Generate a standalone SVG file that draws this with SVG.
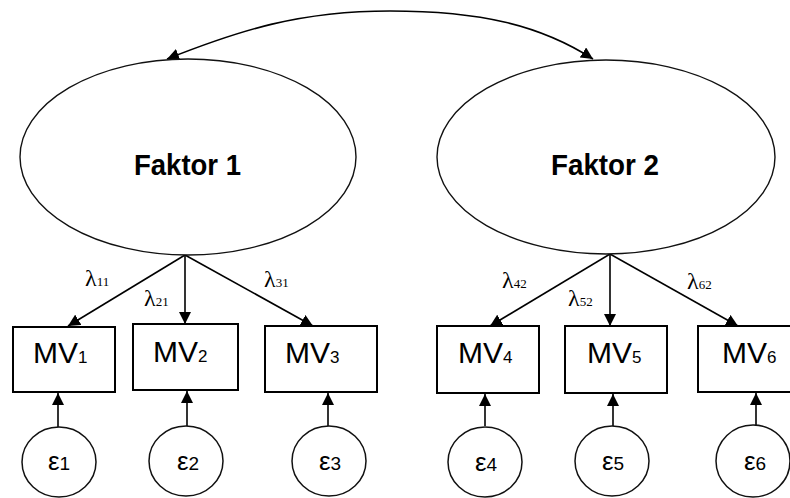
<svg xmlns="http://www.w3.org/2000/svg" width="790" height="498" viewBox="0 0 790 498">
<style>
.line{stroke:#000;stroke-width:1.6;fill:none}
.ell{stroke:#111;stroke-width:1.4;fill:#fff}
.box{stroke:#000;stroke-width:2;fill:#fff}
.err{stroke:#111;stroke-width:1.5;fill:#fff}
.fak{font-family:"Liberation Sans",Arial,sans-serif;font-weight:bold;font-size:30px;fill:#000}
.mv{font-family:"Liberation Sans",Arial,sans-serif;font-size:30px;fill:#000}
.mvs{font-size:17px}
.eps{font-family:"Liberation Sans",Arial,sans-serif;font-size:26px;fill:#000}
.epss{font-size:19px}
.lam{font-family:"Liberation Serif","Times New Roman",serif;font-size:24px;fill:#000}
.lams{font-size:13px}
</style>
<defs>
<marker id="arr" markerUnits="userSpaceOnUse" markerWidth="13" markerHeight="12" refX="12" refY="6" orient="auto-start-reverse" viewBox="0 0 13 12">
<path d="M0,0 L12,6 L0,12 z" fill="#000"/>
</marker>
</defs>
<g id="connectors">
<path class="line" d="M167,59 C240,30 300,11 390,11 C480,11 540,25 593,59" marker-start="url(#arr)" marker-end="url(#arr)"/>
<line class="line" x1="185" y1="255" x2="68" y2="326" marker-end="url(#arr)"/>
<line class="line" x1="185" y1="255" x2="185" y2="324" marker-end="url(#arr)"/>
<line class="line" x1="185" y1="255" x2="313" y2="326" marker-end="url(#arr)"/>
<line class="line" x1="610" y1="254" x2="490" y2="326" marker-end="url(#arr)"/>
<line class="line" x1="610" y1="254" x2="610" y2="326" marker-end="url(#arr)"/>
<line class="line" x1="610" y1="254" x2="738" y2="326" marker-end="url(#arr)"/>
<line class="line" x1="58" y1="427" x2="58" y2="393" marker-end="url(#arr)"/>
<line class="line" x1="187" y1="426" x2="187" y2="391" marker-end="url(#arr)"/>
<line class="line" x1="328" y1="426" x2="328" y2="393" marker-end="url(#arr)"/>
<line class="line" x1="485" y1="426" x2="485" y2="394" marker-end="url(#arr)"/>
<line class="line" x1="613" y1="426" x2="613" y2="394" marker-end="url(#arr)"/>
<line class="line" x1="756" y1="426" x2="756" y2="393" marker-end="url(#arr)"/>
</g>
<g id="faktor1">
<ellipse class="ell" cx="188" cy="157" rx="168" ry="98"/>
<text class="fak" x="134" y="175" textLength="107" lengthAdjust="spacingAndGlyphs">Faktor 1</text>
</g>
<g id="faktor2">
<ellipse class="ell" cx="606" cy="157" rx="169" ry="97"/>
<text class="fak" x="551" y="175" textLength="108" lengthAdjust="spacingAndGlyphs">Faktor 2</text>
</g>
<g id="mv1"><rect class="box" x="13" y="327" width="102" height="65"/><text class="mv" x="33" y="363">MV<tspan class="mvs">1</tspan></text></g>
<g id="mv2"><rect class="box" x="133" y="324" width="105" height="66"/><text class="mv" x="153" y="362">MV<tspan class="mvs">2</tspan></text></g>
<g id="mv3"><rect class="box" x="265" y="326" width="112" height="66"/><text class="mv" x="285" y="363">MV<tspan class="mvs">3</tspan></text></g>
<g id="mv4"><rect class="box" x="437" y="326" width="102" height="67"/><text class="mv" x="458" y="363">MV<tspan class="mvs">4</tspan></text></g>
<g id="mv5"><rect class="box" x="565" y="326" width="102" height="67"/><text class="mv" x="587" y="363">MV<tspan class="mvs">5</tspan></text></g>
<g id="mv6"><rect class="box" x="698" y="326" width="100" height="66"/><text class="mv" x="722" y="363">MV<tspan class="mvs">6</tspan></text></g>
<g id="e1"><ellipse class="err" cx="59" cy="462" rx="37" ry="35"/><text class="eps" x="59" y="470" text-anchor="middle">ε<tspan class="epss">1</tspan></text></g>
<g id="e2"><ellipse class="err" cx="186" cy="461" rx="37" ry="35"/><text class="eps" x="188" y="470" text-anchor="middle">ε<tspan class="epss">2</tspan></text></g>
<g id="e3"><ellipse class="err" cx="329" cy="461" rx="37" ry="35"/><text class="eps" x="330" y="470" text-anchor="middle">ε<tspan class="epss">3</tspan></text></g>
<g id="e4"><ellipse class="err" cx="485" cy="462" rx="37" ry="35"/><text class="eps" x="486" y="471" text-anchor="middle">ε<tspan class="epss">4</tspan></text></g>
<g id="e5"><ellipse class="err" cx="612" cy="461" rx="37" ry="35"/><text class="eps" x="613" y="470" text-anchor="middle">ε<tspan class="epss">5</tspan></text></g>
<g id="e6"><ellipse class="err" cx="753" cy="461" rx="37" ry="36"/><text class="eps" x="755" y="470" text-anchor="middle">ε<tspan class="epss">6</tspan></text></g>
<g id="labels">
<text class="lam" x="85" y="286">λ<tspan class="lams">11</tspan></text>
<text class="lam" x="144" y="306">λ<tspan class="lams">21</tspan></text>
<text class="lam" x="264" y="287">λ<tspan class="lams">31</tspan></text>
<text class="lam" x="502" y="288">λ<tspan class="lams">42</tspan></text>
<text class="lam" x="568" y="306">λ<tspan class="lams">52</tspan></text>
<text class="lam" x="687" y="289">λ<tspan class="lams">62</tspan></text>
</g>
</svg>
